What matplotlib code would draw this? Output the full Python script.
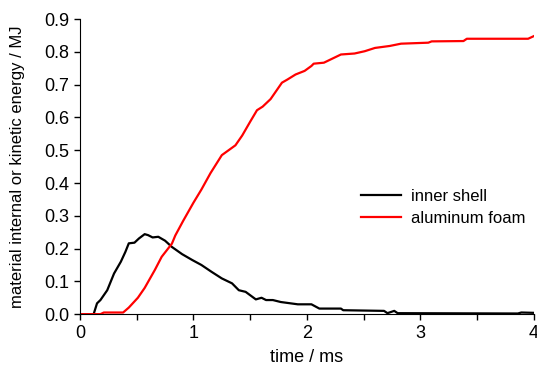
import matplotlib
matplotlib.use("Agg")
import matplotlib.pyplot as plt
from matplotlib.ticker import MultipleLocator

plt.rcParams['font.family'] = ['Liberation Sans', 'DejaVu Sans']

# aluminum foam (red)
foam_t = [0, 0.18, 0.21, 0.38, 0.43, 0.51, 0.57, 0.66, 0.72, 0.81, 0.84, 0.91, 1.0,
          1.07, 1.15, 1.25, 1.37, 1.43, 1.50, 1.56, 1.61, 1.68, 1.74, 1.78, 1.83,
          1.90, 1.98, 2.04, 2.06, 2.15, 2.30, 2.42, 2.51, 2.60, 2.73, 2.83, 3.07,
          3.10, 3.38, 3.41, 3.95, 4.0]
foam_e = [0, 0, 0.005, 0.005, 0.02, 0.05, 0.08, 0.135, 0.175, 0.215, 0.24, 0.285, 0.34,
          0.38, 0.43, 0.485, 0.515, 0.545, 0.587, 0.622, 0.633, 0.656, 0.686, 0.706, 0.716,
          0.731, 0.742, 0.757, 0.764, 0.767, 0.792, 0.795, 0.802, 0.812, 0.818, 0.825, 0.828,
          0.832, 0.833, 0.840, 0.840, 0.848]

# inner shell (black)
shell_t = [0, 0.12, 0.15, 0.18, 0.24, 0.30, 0.36, 0.40, 0.43, 0.48, 0.52, 0.57, 0.60,
           0.64, 0.69, 0.75, 0.81, 0.90, 0.99, 1.07, 1.16, 1.25, 1.34, 1.40, 1.46,
           1.55, 1.60, 1.64, 1.70, 1.77, 1.92, 2.04, 2.11, 2.30, 2.32, 2.68, 2.71,
           2.77, 2.80, 3.86, 3.89, 4.0]
shell_e = [0, 0, 0.033, 0.043, 0.073, 0.124, 0.16, 0.19, 0.216, 0.218, 0.231, 0.244, 0.241,
           0.234, 0.236, 0.224, 0.205, 0.183, 0.165, 0.15, 0.129, 0.109, 0.094, 0.073, 0.068,
           0.045, 0.05, 0.043, 0.043, 0.037, 0.030, 0.030, 0.017, 0.017, 0.012, 0.010, 0.003,
           0.010, 0.003, 0.002, 0.005, 0.004]

fig = plt.figure(figsize=(5.37, 3.67), dpi=100)
ax = fig.add_axes([0.149, 0.144, 0.845, 0.804])

ax.plot(shell_t, shell_e, color='black', lw=1.6, label='inner shell')
ax.plot(foam_t, foam_e, color='red', lw=1.6, label='aluminum foam')

ax.set_xlim(0, 4)
ax.set_ylim(0, 0.9)
ax.xaxis.set_major_locator(MultipleLocator(1))
ax.xaxis.set_minor_locator(MultipleLocator(0.5))
ax.yaxis.set_major_locator(MultipleLocator(0.1))
ax.yaxis.set_major_formatter(plt.FormatStrFormatter('%.1f'))
ax.tick_params(axis='both', which='both', direction='out', labelsize=13, length=4, width=1)
for s in ['top', 'right']:
    ax.spines[s].set_visible(False)

ax.set_xlabel('time / ms', fontsize=13, labelpad=5)
ax.set_ylabel('material internal or kinetic energy / MJ', fontsize=12, labelpad=14)

ax.legend(loc='upper left', bbox_to_anchor=(0.62, 0.425), frameon=False, fontsize=12,
          handlelength=2.4, handletextpad=0.6, labelspacing=0.42,
          borderpad=0, borderaxespad=0)

fig.savefig('out.png', dpi=100)
